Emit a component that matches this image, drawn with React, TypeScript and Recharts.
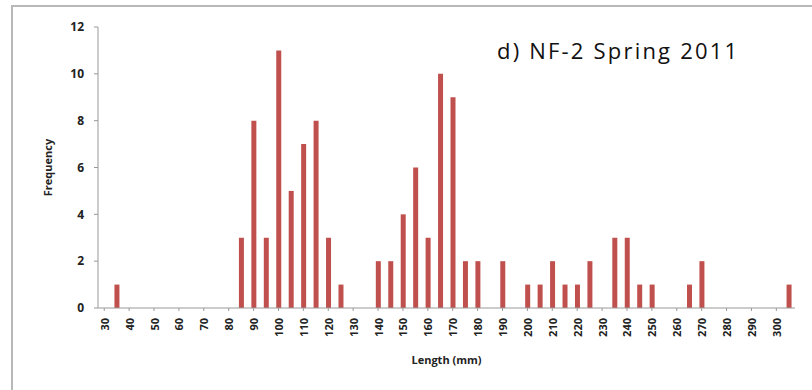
import React from 'react';
import { BarChart, Bar, XAxis, YAxis, Label } from 'recharts';

// length classes (mm), 5 mm bins
const lengths = [
    30, 35, 40, 45, 50, 55, 60, 65, 70, 75, 80, 85, 90, 95, 100, 105, 110, 115,
    120, 125, 130, 135, 140, 145, 150, 155, 160, 165, 170, 175, 180, 185, 190,
    195, 200, 205, 210, 215, 220, 225, 230, 235, 240, 245, 250, 255, 260, 265,
    270, 275, 280, 285, 290, 295, 300, 305
];
const frequency = [
    0, 1, 0, 0, 0, 0, 0, 0, 0, 0, 0, 3, 8, 3, 11, 5, 7, 8,
    3, 1, 0, 0, 2, 2, 4, 6, 3, 10, 9, 2, 2, 0, 2,
    0, 1, 1, 2, 1, 1, 2, 0, 3, 3, 1, 1, 0, 0, 1,
    2, 0, 0, 0, 0, 0, 0, 1
];
const yTicks = [0, 2, 4, 6, 8, 10, 12];

const data = lengths.map((l, i) => ({ length: l, count: frequency[i] }));

const font = '"Open Sans", "Liberation Sans", sans-serif';

const XTick = (props: any) => {
    const { x, y, payload } = props;
    return (
        <text
            x={x}
            y={y + 5}
            transform={`rotate(-90 ${x} ${y + 5})`}
            textAnchor="end"
            dominantBaseline="central"
            fontSize={11}
            fontWeight="bold"
            fontFamily={font}
            fill="#222"
        >
            {payload.value}
        </text>
    );
};

const App = () => {
    return (
        <div style={{ position: 'absolute', left: 0, top: 0, width: 812, height: 390, background: '#fff', overflow: 'hidden' }}>
            <div
                style={{
                    position: 'absolute',
                    left: 11,
                    top: 5,
                    width: 820,
                    height: 400,
                    border: '2px solid #b8b8b8',
                    boxSizing: 'border-box'
                }}
            />
            <div
                style={{
                    position: 'absolute',
                    left: 497,
                    top: 35,
                    fontFamily: font,
                    fontSize: 22,
                    letterSpacing: 2.2,
                    color: '#111',
                    whiteSpace: 'nowrap'
                }}
            >
                d) NF-2 Spring 2011
            </div>
            <div style={{ position: 'absolute', left: 0, top: 0 }}>
                <BarChart
                    width={812}
                    height={390}
                    data={data}
                    margin={{ top: 27, right: 17, left: 58, bottom: 32 }}
                    barSize={5}
                >
                    <XAxis
                        dataKey="length"
                        interval={1}
                        height={50}
                        tick={<XTick />}
                        tickSize={3}
                        stroke="#999"
                    >
                        <Label
                            value="Length (mm)"
                            position="insideBottom"
                            offset={-6}
                            style={{ fontSize: 11, fontWeight: 'bold', fontFamily: font, fill: '#222' }}
                        />
                    </XAxis>
                    <YAxis
                        domain={[0, 12]}
                        ticks={yTicks}
                        width={40}
                        tickSize={4}
                        tickMargin={10}
                        stroke="#999"
                        tick={{ fontSize: 12, fontWeight: 'bold', fontFamily: font, fill: '#222' }}
                    >
                        <Label
                            value="Frequency"
                            angle={-90}
                            position="insideLeft"
                            offset={-10}
                            style={{ fontSize: 11, fontWeight: 'bold', fontFamily: font, fill: '#222', textAnchor: 'middle' }}
                        />
                    </YAxis>
                    <Bar dataKey="count" fill="#C0504D" isAnimationActive={false} />
                </BarChart>
            </div>
        </div>
    );
};

export default App;
